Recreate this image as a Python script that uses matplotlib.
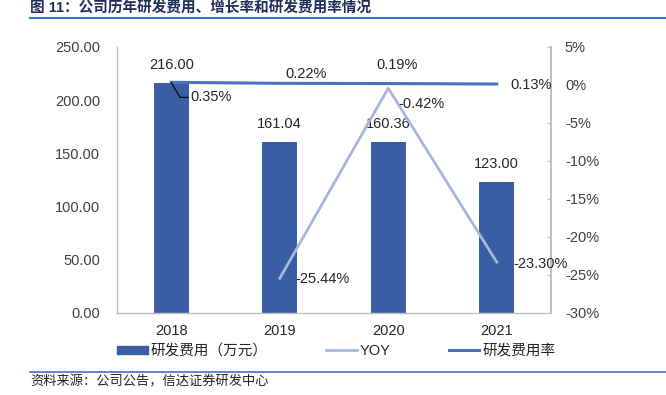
import matplotlib
matplotlib.use('Agg')
import matplotlib.pyplot as plt
from matplotlib.patches import Patch
from matplotlib.lines import Line2D
from matplotlib.ticker import FuncFormatter, MultipleLocator

plt.rcParams['font.family'] = ['Liberation Sans', 'Noto Sans CJK SC']

# data
years = ['2018', '2019', '2020', '2021']
rd_cost = [216.00, 161.04, 160.36, 123.00]      # 研发费用（万元）
yoy_years = ['2019', '2020', '2021']
yoy = [-25.44, -0.42, -23.30]                   # YOY, %
rd_rate = [0.35, 0.22, 0.19, 0.13]              # 研发费用率, %

# label offsets in points (text placement only)
rate_offsets = [(13.5, -10.8), (19, 6.5), (6.5, 13.7), (10, -0.5)]
rate_ha = ['left', 'center', 'center', 'left']
yoy_offsets = [(11.5, -0.7), (7.2, -11.5), (12, -1.5)]

bar_color = '#3A5EA3'
yoy_color = '#A7B7DC'
rate_color = '#4472C4'
axis_color = '#BFBFBF'
text_color = '#262626'

fig = plt.figure(figsize=(6.66, 3.95), dpi=100)
ax = fig.add_axes([117 / 666, 1 - 313 / 395, 434 / 666, 266 / 395])

x = list(range(len(years)))
ax.bar(x, rd_cost, width=0.32, color=bar_color, zorder=2)
ax.set_xlim(-0.5, len(years) - 0.5)
ax.set_ylim(0, 250)
ax.yaxis.set_major_locator(MultipleLocator(50))
ax.yaxis.set_major_formatter(FuncFormatter(lambda v, p: f'{v:.2f}'))
ax.set_xticks(x)
ax.set_xticklabels(years)
ax.tick_params(axis='x', length=0, pad=8, labelsize=10.5, colors=text_color)
ax.tick_params(axis='y', length=0, pad=12, labelsize=10.5, colors='#404040')
for s in ['top', 'right']:
    ax.spines[s].set_visible(False)
for s in ['left', 'bottom']:
    ax.spines[s].set_color(axis_color)
    ax.spines[s].set_linewidth(1.0)

for xi, v in zip(x, rd_cost):
    ax.annotate(f'{v:.2f}', (xi, v), xytext=(0, 13), textcoords='offset points',
                ha='center', va='center', fontsize=10.5, color=text_color)

ax2 = ax.twinx()
ax2.set_ylim(-30, 5)
ax2.yaxis.set_major_locator(MultipleLocator(5))
ax2.yaxis.set_major_formatter(FuncFormatter(lambda v, p: f'{v:.0f}%'))
ax2.tick_params(axis='y', direction='in', length=3, color=axis_color, pad=10,
                labelsize=10.5, labelcolor='#404040')
for s in ['top', 'left', 'bottom']:
    ax2.spines[s].set_visible(False)
ax2.spines['right'].set_color(axis_color)
ax2.spines['right'].set_linewidth(1.5)

yoy_x = [years.index(y) for y in yoy_years]
ax2.plot(yoy_x, yoy, color=yoy_color, lw=2)
ax2.plot(x, rd_rate, color=rate_color, lw=2.2)

for i, (xi, v) in enumerate(zip(x, rd_rate)):
    if i == 0:
        ax2.annotate(f'{v:.2f}%', (xi, v), xytext=rate_offsets[i], textcoords='offset points',
                     ha='left', va='center', fontsize=10.5, color=text_color,
                     arrowprops=dict(arrowstyle='-', color='black', lw=0.8, shrinkA=1, shrinkB=0,
                                     relpos=(0, 0.5), patchA=None,
                                     connectionstyle='angle,angleA=0,angleB=-60,rad=0'))
    else:
        ax2.annotate(f'{v:.2f}%', (xi, v), xytext=rate_offsets[i], textcoords='offset points',
                     ha=rate_ha[i], va='center', fontsize=10.5, color=text_color)

for xi, v, off in zip(yoy_x, yoy, yoy_offsets):
    ax2.annotate(f'{v:.2f}%', (xi, v), xytext=off, textcoords='offset points',
                 ha='left', va='center', fontsize=10.5, color=text_color)

handles = [Patch(color=bar_color),
           Line2D([0], [0], color=yoy_color, lw=2),
           Line2D([0], [0], color=rate_color, lw=2.2)]
labels = ['研发费用（万元）', 'YOY', '研发费用率']
fig.legend(handles, labels, loc='center', bbox_to_anchor=(0.505, 1 - 351 / 395), ncol=3,
           frameon=False, fontsize=10.5, handlelength=2.1, handleheight=0.5,
           handletextpad=0.2, columnspacing=4.0, labelcolor=text_color)

# title and source
fig.text(30 / 666, 1 - 9 / 395, '图 11：公司历年研发费用、增长率和研发费用率情况',
         fontsize=10.5, fontweight='bold', color='#1F2F5C', ha='left', va='center')
fig.add_artist(Line2D([30 / 666, 1], [1 - 18 / 395] * 2, color=rate_color, lw=1.5))
fig.add_artist(Line2D([30 / 666, 1], [1 - 372 / 395] * 2, color=rate_color, lw=1.2))
fig.text(30 / 666, 1 - 382 / 395, '资料来源：公司公告，信达证券研发中心',
         fontsize=9.5, color=text_color, ha='left', va='center')

fig.savefig('out.png', dpi=100)
